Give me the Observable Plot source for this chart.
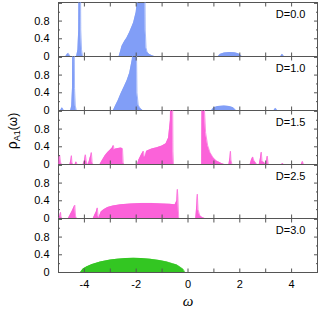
<!DOCTYPE html>
<html>
<head>
<meta charset="utf-8">
<script src="https://cdn.jsdelivr.net/npm/d3@7"></script>
<script src="https://cdn.jsdelivr.net/npm/@observablehq/plot@0.6"></script>
<style>
  html, body { margin: 0; padding: 0; background: #fff; }
  #chart { width: 318px; height: 310px; }
</style>
</head>
<body>
<div id="chart"></div>
<script>
// Panel labels (D values) and colours
const panels = ["0.0", "1.0", "1.5", "2.5", "3.0"];
const panelColors = ["#819ef7", "#819ef7", "#fb62d9", "#fb62d9", "#33c622"];

// D = 0.0
const omega0 = [-5, -4.72, -4.66, -4.62, -4.58, -4.54, -4.3, -4.25, -4.22, -4.2, -4.16, -4.14, -4.11, -4.07,
  -2.66, -2.6, -2.55, -2.45, -2.36, -2.25, -2.1, -2.0, -1.95, -1.85, -1.72, -1.68, -1.65, -1.62, -1.58, -1.5, -1.4, -1.3,
  1.17, 1.25, 1.4, 1.6, 1.8, 1.95, 2.03, 2.07, 3.58, 3.64, 3.7, 5];
const rho0 = [0, 0, 0.05, 0.07, 0.03, 0, 0, 0.15, 0.6, 2.5, 2.5, 0.6, 0.15, 0,
  0, 0.12, 0.23, 0.34, 0.42, 0.55, 0.76, 1.0, 1.3, 2, 3, 3, 0.6, 0.2, 0.1, 0.05, 0.02, 0,
  0, 0.05, 0.08, 0.09, 0.085, 0.06, 0.03, 0, 0, 0.05, 0, 0];

// D = 1.0
const omega1 = [-5, -4.92, -4.86, -4.8, -4.53, -4.49, -4.46, -4.44, -4.4, -4.38, -4.35, -4.31,
  -2.88, -2.8, -2.7, -2.57, -2.45, -2.35, -2.25, -2.15, -2.1, -2.05, -2.0, -1.97, -1.92, -1.85, -1.75,
  0.91, 1.0, 1.15, 1.4, 1.6, 1.75, 1.85, 3.32, 3.38, 3.44, 5];
const rho1 = [0, 0, 0.06, 0, 0, 0.1, 0.5, 2.5, 2.5, 0.5, 0.1, 0,
  0, 0.1, 0.22, 0.4, 0.55, 0.68, 0.85, 1.15, 1.6, 3, 2, 0.4, 0.12, 0.05, 0,
  0, 0.06, 0.09, 0.1, 0.09, 0.06, 0, 0, 0.05, 0, 0];

// D = 1.5
const omega2 = [-5, -4.98, -4.95, -4.92, -4.88, -4.56, -4.52, -4.5, -4.48, -4.45, -4.36, -4.32, -4.28,
  -4.05, -4.0, -3.96, -3.93, -3.88, -3.85, -3.8, -3.78, -3.75, -3.73, -3.7, -3.67,
  -3.4, -3.3, -3.2, -3.1, -3.0, -2.92, -2.88, -2.85, -2.8, -2.7, -2.6, -2.53, -2.5, -2.45,
  -1.95, -1.9, -1.8, -1.72, -1.68, -1.64, -1.6, -1.4, -1.2, -1.0, -0.85, -0.75, -0.68, -0.64, -0.61, -0.58, -0.56,
  0.53, 0.55, 0.6, 0.64, 0.68, 0.76, 0.85, 0.97, 1.1, 1.3, 1.4,
  1.58, 1.62, 1.64, 1.66, 1.7, 2.4, 2.45, 2.5, 2.55, 2.6, 2.65,
  2.75, 2.8, 2.83, 2.86, 2.95, 3.0, 3.02, 3.06, 3.1, 3.62, 3.65, 3.68, 4.38, 4.42, 4.46, 5];
const rho2 = [0, 0.18, 0.2, 0.05, 0, 0, 0.1, 0.2, 0.05, 0, 0, 0.06, 0,
  0, 0.08, 0.22, 0.08, 0, 0, 0.1, 0.15, 0.2, 0.27, 0.05, 0,
  0, 0.1, 0.2, 0.27, 0.33, 0.38, 0.43, 0.33, 0.35, 0.36, 0.37, 0.36, 0.02, 0,
  0, 0.1, 0.22, 0.3, 0.15, 0.2, 0.3, 0.35, 0.38, 0.42, 0.47, 0.6, 1.0, 3, 3, 0.3, 0,
  0, 3, 3, 1.2, 0.72, 0.43, 0.27, 0.15, 0.08, 0.02, 0,
  0, 0.15, 0.3, 0.1, 0, 0, 0.1, 0.17, 0.08, 0.05, 0,
  0, 0.15, 0.28, 0.07, 0.04, 0, 0, 0.19, 0, 0, 0.03, 0, 0, 0.07, 0, 0];

// D = 2.5
const omega3 = [-5, -4.95, -4.92, -4.9, -4.85, -4.62, -4.55, -4.47, -4.4, -4.37, -4.34, -4.3,
  -3.66, -3.6, -3.54, -3.5, -3.47, -3.44,
  -3.42, -3.35, -3.25, -3.1, -2.9, -2.6, -2.2, -1.8, -1.4, -1.0, -0.7, -0.5, -0.43, -0.41, -0.39, -0.36, -0.33,
  0.3, 0.34, 0.36, 0.39, 0.45, 0.55, 0.65, 5];
const rho3 = [0, 0.05, 0.14, 0.03, 0, 0, 0.08, 0.17, 0.26, 0.3, 0.05, 0,
  0, 0.08, 0.15, 0.24, 0.05, 0,
  0.05, 0.15, 0.2, 0.25, 0.28, 0.31, 0.33, 0.34, 0.34, 0.33, 0.32, 0.31, 0.4, 0.66, 0.5, 0.02, 0,
  0, 0.3, 0.55, 0.2, 0.07, 0.02, 0, 0];

// D = 3.0
const omega4 = [-5, -4.15, -4.05, -3.9, -3.7, -3.38, -3.0, -2.74, -2.4, -2.1, -1.8, -1.46, -1.1, -0.82, -0.6, -0.43, -0.3, -0.18, -0.12, 5];
const rho4 = [0, 0, 0.08, 0.13, 0.18, 0.24, 0.28, 0.3, 0.315, 0.32, 0.315, 0.3, 0.27, 0.24, 0.2, 0.17, 0.12, 0.07, 0, 0];

// Axis ticks
const xTicks = [-4, -2, 0, 2, 4];
const xMinorTicks = [-4, -3, -2, -1, 0, 1, 2, 3, 4];
const yTicks = [0, 0.4, 0.8];
const yAllTicks = [0.4, 0.8, 1.2];
const yMinorTicks = [0.2, 0.6, 1.0];

const omegas = [omega0, omega1, omega2, omega3, omega4];
const rhos = [rho0, rho1, rho2, rho3, rho4];
const table = panels.flatMap((D, k) => omegas[k].map((w, i) => ({D, w, r: rhos[k][i]})));

const font = "'Liberation Sans', Arial, Helvetica, sans-serif";
const axisColor = "#555";

const svg = Plot.plot({
  width: 318,
  height: 310,
  marginLeft: 58,
  marginRight: 1,
  marginTop: 0,
  marginBottom: 37,
  style: {fontFamily: font, fontSize: "11px", background: "#fff", color: "#000"},
  x: {domain: [-5, 5]},
  y: {domain: [0, 1.22]},
  fy: {domain: panels, padding: 0, axis: null},
  color: {domain: panels, range: panelColors},
  marks: [
    Plot.areaY(table, {x: "w", y: "r", fy: "D", fill: "D", curve: "linear", clip: true}),
    Plot.frame({stroke: axisColor, strokeWidth: 1}),
    Plot.lineY(table, {x: "w", y: "r", fy: "D", stroke: "D", strokeWidth: 0.7, curve: "linear", clip: true}),
    // inward ticks
    Plot.axisX({anchor: "bottom", ticks: xMinorTicks, tickSize: -3.5, fill: "none", stroke: axisColor, label: null, facetAnchor: null}),
    Plot.axisX({anchor: "top", ticks: xMinorTicks, tickSize: -3.5, fill: "none", stroke: axisColor, label: null, facetAnchor: null}),
    Plot.axisY({anchor: "left", ticks: yAllTicks, tickSize: -4, fill: "none", stroke: axisColor, label: null, facetAnchor: null}),
    Plot.axisY({anchor: "left", ticks: yMinorTicks, tickSize: -2, fill: "none", stroke: axisColor, label: null, facetAnchor: null}),
    Plot.axisY({anchor: "right", ticks: yAllTicks, tickSize: -4, fill: "none", stroke: axisColor, label: null, facetAnchor: null}),
    Plot.axisY({anchor: "right", ticks: yMinorTicks, tickSize: -2, fill: "none", stroke: axisColor, label: null, facetAnchor: null}),
    // tick labels
    Plot.axisX({anchor: "bottom", ticks: xTicks, tickSize: 0, tickPadding: 8, tickFormat: d => String(d), label: null, fontSize: 11}),
    Plot.axisY({anchor: "left", ticks: yTicks, tickSize: 0, tickPadding: 9, tickFormat: d => String(d), label: null, facetAnchor: null, fontSize: 11}),
    // panel labels
    Plot.text(panels, {fy: d => d, text: d => "D=" + d, frameAnchor: "top-right", dx: -12, dy: 12, lineAnchor: "middle", fontSize: 11, fill: "#000"})
  ]
});

const root = d3.select(svg);
// y label with subscript
const yl = root.append("text")
  .attr("transform", "translate(17,131) rotate(-90)")
  .attr("text-anchor", "middle")
  .attr("fill", "#000")
  .style("font-family", font);
yl.append("tspan").attr("font-size", 14).text("ρ");
yl.append("tspan").attr("font-size", 9).attr("dy", 3).text("A1");
yl.append("tspan").attr("font-size", 12).attr("dy", -3).text("(ω)");
// x label
root.append("text")
  .attr("x", 188)
  .attr("y", 306)
  .attr("text-anchor", "middle")
  .attr("fill", "#000")
  .attr("font-size", 15)
  .style("font-family", "'Liberation Serif', 'DejaVu Serif', serif")
  .style("font-style", "italic")
  .text("ω");

document.getElementById("chart").appendChild(svg);
</script>
</body>
</html>
